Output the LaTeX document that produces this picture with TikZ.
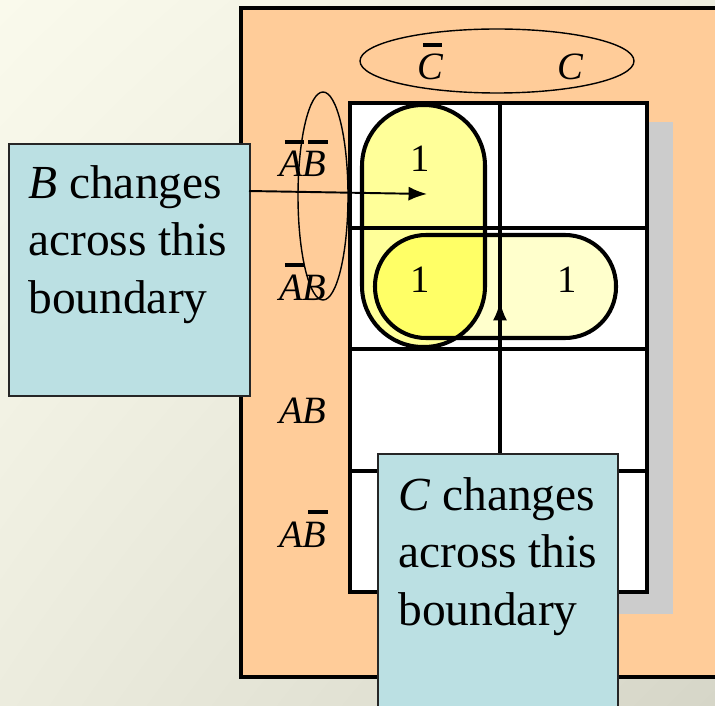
\documentclass[tikz,border=0pt]{standalone}
\usepackage{fontspec}
\setmainfont{Liberation Serif}
\usetikzlibrary{arrows.meta,positioning,shadings}

\definecolor{peach}{RGB}{255,204,153}
\definecolor{calloutfill}{RGB}{187,224,227}
\definecolor{shadowgray}{RGB}{204,204,204}
\definecolor{loopv}{RGB}{255,255,153}
\definecolor{looph}{RGB}{255,255,204}
\definecolor{loopboth}{RGB}{255,255,102}
\definecolor{bgTL}{RGB}{250,250,236}
\definecolor{bgMid}{RGB}{236,236,222}
\definecolor{bgBR}{RGB}{214,214,200}

% bar over a single italic letter
\newcommand{\barred}[1]{\leavevmode\rlap{\hspace{0.14em}\rule[0.86em]{0.5em}{0.09em}}#1}

\begin{document}
\begin{tikzpicture}[
  x=0.02cm,y=-0.02cm,
  panel/.style={fill=peach,draw=black,line width=2.4pt},
  grid/.style={draw=black,line width=2pt},
  loop/.style={draw=black,line width=2.3pt},
  ring/.style={draw=black,line width=0.8pt},
  maplabel/.style={font=\fontsize{22}{26}\selectfont,inner sep=0pt},
  callout/.style={fill=calloutfill,draw=black!85,line width=0.9pt},
  calltext/.style={font=\fontsize{27}{32.6}\selectfont,align=left,inner sep=0pt},
  pointer/.style={-{Latex[length=10.5pt,width=8pt]},line width=1.1pt}
]
  \def\mapL{350}
  \def\mapM{500}
  \def\mapR{647}
  \def\mapT{103}
  \def\mapB{592}

  \clip (0,0) rectangle (715,705);
  \shade[upper left=bgTL,upper right=bgMid,lower left=bgMid,lower right=bgBR]
    (0,0) rectangle (715,705);

  % panel and map shadow
  \draw[panel] (241,8) rectangle (740,677);
  \fill[shadowgray] (377,122) rectangle (673,614);
  \fill[white] (\mapL,\mapT) rectangle (\mapR,\mapB);

  % loops
  \def\loopV{(362,105) rectangle (485,347)}
  \def\loopH{(375,235) rectangle (616,338)}
  \fill[loopv,rounded corners=1.22cm] \loopV;
  \fill[looph,rounded corners=1.02cm] \loopH;
  \begin{scope}
    \clip[rounded corners=1.22cm] \loopV;
    \fill[loopboth,rounded corners=1.02cm] \loopH;
  \end{scope}
  \draw[loop,rounded corners=1.22cm] \loopV;
  \draw[loop,rounded corners=1.02cm] \loopH;

  % map grid
  \draw[grid] (\mapL,\mapT) rectangle (\mapR,\mapB);
  \foreach \y in {228,349,471}{
    \draw[grid] (\mapL,\y) -- (\mapR,\y);
  }
  \draw[grid] (\mapM,\mapT) -- (\mapM,\mapB);

  % cell entries
  \node[maplabel,anchor=base] (oneA) at (420,172) {1};
  \node[maplabel,anchor=base] (oneB) at (420,293) {1};
  \node[maplabel,anchor=base] (oneC) at (567,293) {1};

  % column and row labels
  \node[maplabel,anchor=base west] (colCn) at (417,80) {\itshape\barred{C}};
  \node[maplabel,anchor=base west] (colC) at (557,80) {\itshape C};
  \node[maplabel,anchor=base west] (rowA) at (279,177) {\itshape\barred{A}\barred{B}};
  \node[maplabel,anchor=base west] (rowB) at (279,300) {\itshape\barred{A}B};
  \node[maplabel,anchor=base west] (rowC) at (279,423) {\itshape AB};
  \node[maplabel,anchor=base west] (rowD) at (279,547) {\itshape A\barred{B}};

  \draw[ring] (497,61) ellipse [x radius=137,y radius=32];
  \draw[ring] (323,196) ellipse [x radius=25,y radius=104];

  % callouts (base anchor = last line)
  \node[callout,anchor=north west,minimum width=4.82cm,minimum height=5.04cm] (boxB) at (8,143) {};
  \node[calltext,anchor=base west] (textB) at (28,313) {\textit{B} changes\\across this\\boundary};
  \coordinate (bFrom) at (249,191);
  \coordinate (bTo) at (427,194);
  \draw[pointer] (bFrom) -- (bTo);

  \node[callout,anchor=north west,minimum width=4.8cm,minimum height=6cm] (boxC) at (377,453) {};
  \node[calltext,anchor=base west] (textC) at (398,625) {\textit{C} changes\\across this\\boundary};
  \coordinate (cTo) at (500,302);
  \draw[pointer] (cTo |- boxC.north) -- (cTo);
\end{tikzpicture}
\end{document}
